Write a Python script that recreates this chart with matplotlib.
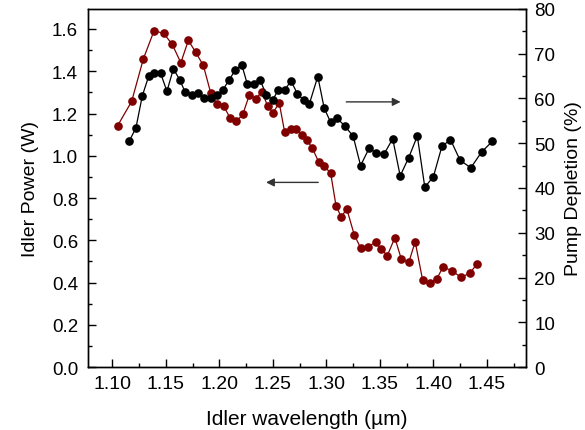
import matplotlib
matplotlib.use("Agg")
import matplotlib.pyplot as plt
from matplotlib.ticker import MultipleLocator

plt.rc("font", family=["Liberation Sans", "DejaVu Sans"], size=13.5)

# idler power (left axis)
wl_power = [1.105, 1.118, 1.129, 1.139, 1.148, 1.156, 1.164, 1.171, 1.178, 1.185,
            1.192, 1.198, 1.204, 1.210, 1.216, 1.222, 1.228, 1.234, 1.240, 1.245,
            1.250, 1.256, 1.261, 1.267, 1.272, 1.277, 1.282, 1.287, 1.293, 1.298,
            1.304, 1.309, 1.314, 1.319, 1.326, 1.332, 1.339, 1.346, 1.351, 1.357,
            1.364, 1.370, 1.377, 1.383, 1.390, 1.397, 1.403, 1.409, 1.417, 1.426,
            1.434, 1.441]
power = [1.143, 1.257, 1.459, 1.592, 1.579, 1.527, 1.440, 1.546, 1.489, 1.428,
         1.296, 1.243, 1.236, 1.179, 1.163, 1.197, 1.288, 1.271, 1.303, 1.236,
         1.204, 1.249, 1.113, 1.129, 1.129, 1.097, 1.073, 1.035, 0.969, 0.951,
         0.918, 0.764, 0.709, 0.750, 0.627, 0.564, 0.568, 0.592, 0.559, 0.528,
         0.612, 0.512, 0.495, 0.593, 0.411, 0.400, 0.416, 0.473, 0.457, 0.424,
         0.445, 0.488]

# pump depletion (right axis)
wl_depl = [1.116, 1.122, 1.128, 1.134, 1.139, 1.145, 1.151, 1.157, 1.163, 1.168,
           1.174, 1.180, 1.186, 1.192, 1.198, 1.203, 1.209, 1.215, 1.221, 1.226,
           1.232, 1.238, 1.244, 1.250, 1.255, 1.261, 1.267, 1.273, 1.279, 1.284,
           1.292, 1.298, 1.304, 1.310, 1.317, 1.325, 1.332, 1.340, 1.346, 1.354,
           1.362, 1.369, 1.377, 1.385, 1.392, 1.400, 1.408, 1.416, 1.425, 1.435,
           1.445, 1.455]
depletion = [50.6, 53.4, 60.6, 65.0, 65.7, 65.7, 61.6, 66.6, 64.2, 61.4,
             60.8, 61.3, 60.2, 60.1, 60.8, 61.8, 64.1, 66.4, 67.5, 63.3,
             63.3, 64.2, 60.7, 59.7, 61.9, 61.9, 63.9, 61.0, 59.6, 58.7,
             64.9, 57.8, 54.7, 55.6, 53.9, 51.6, 45.0, 48.9, 47.9, 47.6,
             51.0, 42.7, 46.8, 51.6, 40.2, 42.5, 49.3, 50.8, 46.2, 44.5,
             48.0, 50.4]

red = "#800000"

fig = plt.figure(figsize=(5.85, 4.31), dpi=100)
ax = fig.add_axes([0.150, 0.146, 0.749, 0.831])
ax2 = ax.twinx()

ax.plot(wl_power, power, "-o", color=red, lw=0.9, ms=5.2, mec=red, zorder=3)
ax2.plot(wl_depl, depletion, "-o", color="black", lw=0.9, ms=5.2, zorder=3)

ax.set_xlim(1.077, 1.4865)
ax.set_ylim(0, 1.695)
ax2.set_ylim(0, 80)

ax.xaxis.set_major_locator(MultipleLocator(0.05))
ax.xaxis.set_minor_locator(MultipleLocator(0.025))
ax.yaxis.set_major_locator(MultipleLocator(0.2))
ax.yaxis.set_minor_locator(MultipleLocator(0.1))
ax2.yaxis.set_major_locator(MultipleLocator(10))
ax2.yaxis.set_minor_locator(MultipleLocator(5))
ax.xaxis.set_major_formatter(plt.FormatStrFormatter("%.2f"))
ax.yaxis.set_major_formatter(plt.FormatStrFormatter("%.1f"))

ax.tick_params(which="both", direction="in", top=False, right=False, width=1)
ax.tick_params(which="major", length=6, pad=7)
ax.tick_params(which="minor", length=3)
ax.tick_params(axis="x", labelsize=14, pad=6)
ax2.tick_params(which="both", direction="in", width=1)
ax2.tick_params(which="major", length=6, pad=6)
ax2.tick_params(which="minor", length=3)
for a in (ax, ax2):
    for s in a.spines.values():
        s.set_linewidth(1)

ax.set_xlabel("Idler wavelength (\u00b5m)", fontsize=15, labelpad=12)
ax.set_ylabel("Idler Power (W)", fontsize=14, labelpad=9)
ax2.set_ylabel("Pump Depletion (%)", fontsize=14, labelpad=7)

# arrows pointing to the relevant axis
arrow = dict(arrowstyle="-|>", color="#333333", lw=1, mutation_scale=12)
ax.annotate("", xy=(1.372, 1.255), xytext=(1.316, 1.255), arrowprops=arrow)
ax.annotate("", xy=(1.241, 0.874), xytext=(1.295, 0.874), arrowprops=arrow)

fig.savefig("out.png", dpi=100)
